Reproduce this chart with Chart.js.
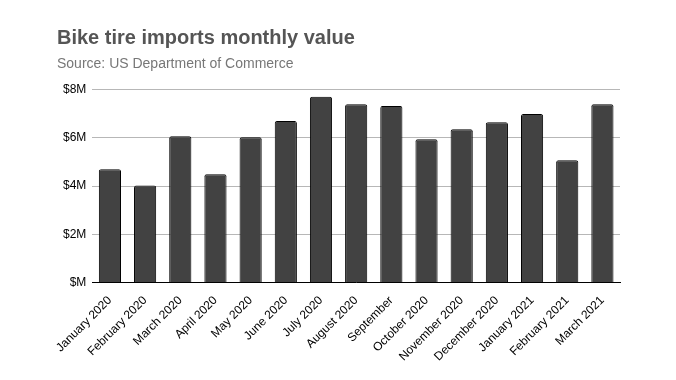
<!DOCTYPE html>
<html><head><meta charset="utf-8">
<script src="https://cdn.jsdelivr.net/npm/chart.js@4.4.0/dist/chart.umd.min.js"></script>
<style>html,body{margin:0;padding:0;background:#fff}#wrap{width:676px;height:380px}</style>
</head><body><div id="wrap"><canvas id="c" width="676" height="380"></canvas></div>
<script>
const categories = ["January 2020","February 2020","March 2020","April 2020","May 2020","June 2020","July 2020","August 2020","September","October 2020","November 2020","December 2020","January 2021","February 2021","March 2021"];
const values = [4.70,4.03,6.07,4.49,6.03,6.70,7.71,7.40,7.33,5.95,6.36,6.65,6.99,5.07,7.40];
const yTicks = [0,2,4,6,8];
const titleText = "Bike tire imports monthly value";
const subtitleText = "Source: US Department of Commerce";

Chart.defaults.font.family = "'Liberation Sans', Arial, sans-serif";
new Chart(document.getElementById('c'), {
  type: 'bar',
  data: { labels: categories, datasets: [{ data: values, backgroundColor: '#424242', borderColor: '#000', borderWidth: 1, borderSkipped: 'bottom', borderRadius: 2, categoryPercentage: 1, barPercentage: 0.63 }] },
  options: {
    responsive: false, animation: false,
    layout: { padding: { left: 57, right: 56, top: 26, bottom: 13 } },
    plugins: {
      legend: { display: false }, tooltip: { enabled: false },
      title: { display: true, text: titleText, align: 'start', color: '#555', font: { size: 20, weight: 'bold' }, padding: { top: 0, bottom: 6 } },
      subtitle: { display: true, text: subtitleText, align: 'start', color: '#777', font: { size: 14 }, padding: { bottom: 17 } }
    },
    scales: {
      x: { grid: { display: false }, border: { color: '#000' }, ticks: { color: '#000', font: { size: 12 }, minRotation: 45, maxRotation: 45, autoSkip: false } },
      y: { min: 0, max: 8, afterBuildTicks: a => { a.ticks = yTicks.map(v => ({ value: v })); }, grid: { color: '#b7b7b7', drawTicks: false }, border: { display: false }, ticks: { color: '#000', font: { size: 12 }, padding: 6, callback: v => '$' + (v === 0 ? '' : v) + 'M' } }
    }
  }
});
</script></body></html>
